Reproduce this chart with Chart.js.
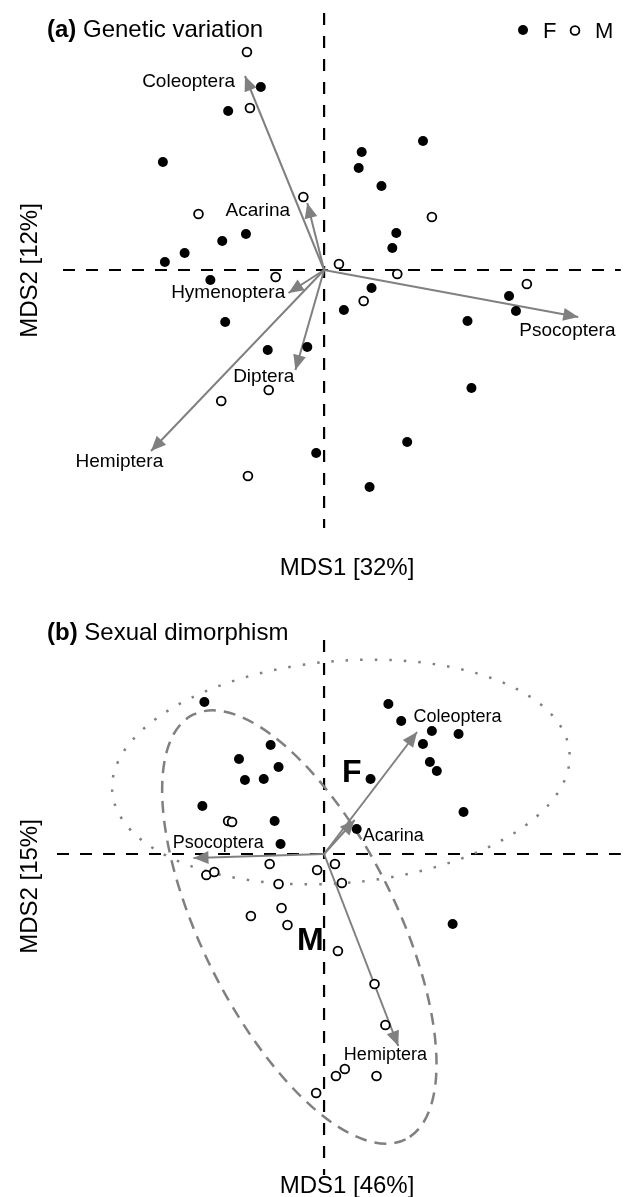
<!DOCTYPE html>
<html>
<head>
<meta charset="utf-8">
<script src="https://cdn.jsdelivr.net/npm/chart.js@4/dist/chart.umd.min.js"></script>
<style>
  body { margin: 0; background: #fff; }
  canvas { position: absolute; left: 0; }
  #chartA { top: 0; }
  #chartB { top: 600px; }
</style>
</head>
<body>
<canvas id="chartA" width="627" height="600"></canvas>
<canvas id="chartB" width="627" height="597"></canvas>
<script>
// (a) Genetic variation - MDS scores
const femalesA = [
  [-0.64, 1.83], [-0.97, 1.59], [-1.63, 1.08], [0.38, 1.18], [0.35, 1.02], [1.00, 1.29],
  [0.58, 0.84], [-0.79, 0.36], [-1.03, 0.29], [-1.41, 0.17], [-1.61, 0.08], [0.73, 0.37],
  [0.69, 0.22], [-1.15, -0.10], [0.48, -0.18], [1.87, -0.26], [1.94, -0.41], [1.45, -0.51],
  [0.20, -0.40], [-1.00, -0.52], [-0.57, -0.80], [-0.17, -0.77], [1.49, -1.18], [0.84, -1.72],
  [-0.08, -1.83], [0.46, -2.17]
];
const malesA = [
  [-0.78, 2.18], [-0.75, 1.62], [-0.21, 0.73], [-1.27, 0.56], [1.09, 0.53], [0.15, 0.06],
  [-0.49, -0.07], [0.74, -0.04], [2.05, -0.14], [0.40, -0.31], [-0.56, -1.20], [-1.04, -1.31],
  [-0.77, -2.06]
];
const vectorNamesA = ['Coleoptera', 'Acarina', 'Hymenoptera', 'Diptera', 'Hemiptera', 'Psocoptera'];
const vectorTipsA = [[-0.80, 1.94], [-0.17, 0.67], [-0.36, -0.23], [-0.29, -1.00], [-1.75, -1.81], [2.57, -0.47]];
const vectorLabelAtA = [[-1.37, 1.88], [-0.67, 0.59], [-0.97, -0.23], [-0.61, -1.07], [-2.07, -1.92], [2.46, -0.61]];

// (b) Sexual dimorphism - MDS scores
const femalesB = [
  [-1.21, 1.52], [0.65, 1.50], [0.78, 1.33], [1.09, 1.23], [1.36, 1.20], [1.00, 1.10],
  [-0.54, 1.09], [-0.86, 0.95], [-0.46, 0.87], [1.07, 0.92], [1.14, 0.83], [-0.80, 0.74],
  [-0.61, 0.75], [0.47, 0.75], [-1.23, 0.48], [1.41, 0.42], [-0.50, 0.33], [0.33, 0.25],
  [-0.44, 0.10], [1.30, -0.70]
];
const malesB = [
  [-0.97, 0.33], [-0.93, 0.32], [-0.55, -0.10], [0.11, -0.10], [-0.07, -0.16], [-1.19, -0.21],
  [-1.11, -0.18], [-0.46, -0.30], [0.18, -0.29], [-0.43, -0.54], [-0.74, -0.62], [-0.37, -0.71],
  [0.14, -0.97], [0.51, -1.30], [0.62, -1.71], [0.21, -2.15], [0.12, -2.22], [0.53, -2.22],
  [-0.08, -2.39]
];
const vectorNamesB = ['Coleoptera', 'Acarina', 'Psocoptera', 'Hemiptera'];
const vectorTipsB = [[0.94, 1.22], [0.31, 0.34], [-1.32, -0.04], [0.75, -1.92]];
const vectorLabelAtB = [[1.35, 1.37], [0.70, 0.18], [-1.07, 0.11], [0.62, -2.01]];
const groupNamesB = ['F', 'M'];
const groupLabelAtB = [[0.28, 0.81], [-0.14, -0.87]];
// ellipse: centre x, centre y, radius x, radius y, angle (deg)
const ellipseF = [0.17, 0.82, 2.32, 1.11, 5];
const ellipseM = [-0.25, -0.73, 2.40, 0.97, -63.4];

const FONT = '"Liberation Sans", Arial, Helvetica, sans-serif';
const GREY = '#808080';

function toXY(arr) {
  return arr.map(p => ({ x: p[0], y: p[1] }));
}

function pointSets(females, males) {
  return [
    {
      data: toXY(females),
      pointRadius: 5, pointBackgroundColor: '#000', pointBorderColor: '#000', pointBorderWidth: 0,
      clip: false
    },
    {
      data: toXY(males),
      pointRadius: 4.4, pointBackgroundColor: '#fff', pointBorderColor: '#000', pointBorderWidth: 1.8,
      clip: false
    }
  ];
}

function arrowSets(tips) {
  return tips.map(t => ({
    data: [{ x: 0, y: 0 }, { x: t[0], y: t[1] }],
    showLine: true, borderColor: GREY, borderWidth: 2, pointRadius: 0, clip: false, isArrow: true
  }));
}

function drawEllipse(chart, e, dash, width) {
  const ctx = chart.ctx, xs = chart.scales.x, ys = chart.scales.y;
  const cx = xs.getPixelForValue(e[0]);
  const cy = ys.getPixelForValue(e[1]);
  const rx = Math.abs(xs.getPixelForValue(e[2]) - xs.getPixelForValue(0));
  const ry = Math.abs(ys.getPixelForValue(e[3]) - ys.getPixelForValue(0));
  ctx.save();
  ctx.strokeStyle = GREY;
  ctx.lineWidth = width;
  ctx.setLineDash(dash);
  ctx.beginPath();
  ctx.ellipse(cx, cy, rx, ry, -e[4] * Math.PI / 180, 0, Math.PI * 2);
  ctx.stroke();
  ctx.restore();
}

function makePlugin(cfg) {
  return {
    id: 'mdsPanel',
    beforeDatasetsDraw(chart) {
      const ctx = chart.ctx, a = chart.chartArea;
      const x0 = chart.scales.x.getPixelForValue(0);
      const y0 = chart.scales.y.getPixelForValue(0);
      ctx.save();
      ctx.strokeStyle = '#000';
      ctx.lineWidth = 2.2;
      ctx.setLineDash([12, 11]);
      ctx.beginPath();
      ctx.moveTo(a.left, y0); ctx.lineTo(a.right, y0);
      ctx.moveTo(x0, a.top); ctx.lineTo(x0, a.bottom);
      ctx.stroke();
      ctx.restore();
      if (cfg.ellipses) {
        drawEllipse(chart, cfg.ellipses[0], [2.5, 12], 2.5);
        drawEllipse(chart, cfg.ellipses[1], [12, 8], 2.5);
      }
    },
    afterDatasetsDraw(chart) {
      const ctx = chart.ctx, xs = chart.scales.x, ys = chart.scales.y;
      ctx.save();
      chart.data.datasets.forEach((ds, i) => {
        if (!ds.isArrow) return;
        const pts = chart.getDatasetMeta(i).data;
        const ang = Math.atan2(pts[1].y - pts[0].y, pts[1].x - pts[0].x);
        const len = 15, half = 6.5;
        const bx = pts[1].x - len * Math.cos(ang), by = pts[1].y - len * Math.sin(ang);
        ctx.fillStyle = GREY;
        ctx.beginPath();
        ctx.moveTo(pts[1].x, pts[1].y);
        ctx.lineTo(bx + half * Math.sin(ang), by - half * Math.cos(ang));
        ctx.lineTo(bx - half * Math.sin(ang), by + half * Math.cos(ang));
        ctx.closePath();
        ctx.fill();
      });
      ctx.fillStyle = '#000';
      ctx.textAlign = 'center';
      ctx.textBaseline = 'middle';
      ctx.font = cfg.labelSize + 'px ' + FONT;
      cfg.names.forEach((n, i) => {
        ctx.fillText(n, xs.getPixelForValue(cfg.labelAt[i][0]), ys.getPixelForValue(cfg.labelAt[i][1]));
      });
      if (cfg.groups) {
        ctx.font = 'bold 32px ' + FONT;
        cfg.groups.forEach((g, i) => {
          ctx.fillText(g, xs.getPixelForValue(cfg.groupAt[i][0]), ys.getPixelForValue(cfg.groupAt[i][1]));
        });
      }
      ctx.restore();
    },
    afterDraw(chart) {
      const ctx = chart.ctx;
      ctx.save();
      ctx.fillStyle = '#000';
      ctx.textBaseline = 'alphabetic';
      // panel title
      ctx.textAlign = 'left';
      ctx.font = 'bold 24px ' + FONT;
      ctx.fillText(cfg.tag, 47, cfg.titleY);
      const w = ctx.measureText(cfg.tag).width;
      ctx.font = '24px ' + FONT;
      ctx.fillText(' ' + cfg.title, 47 + w, cfg.titleY);
      // axis titles
      ctx.textAlign = 'center';
      ctx.fillText(cfg.xTitle, 347, cfg.xTitleY);
      ctx.save();
      ctx.translate(37, cfg.yTitleY);
      ctx.rotate(-Math.PI / 2);
      ctx.fillText(cfg.yTitle, 0, 0);
      ctx.restore();
      // legend
      if (cfg.legend) {
        ctx.beginPath();
        ctx.arc(523, 30, 5, 0, Math.PI * 2);
        ctx.fill();
        ctx.font = '22px ' + FONT;
        ctx.textAlign = 'left';
        ctx.fillText('F', 543, 38);
        ctx.beginPath();
        ctx.arc(575, 30.5, 4.4, 0, Math.PI * 2);
        ctx.lineWidth = 1.8;
        ctx.strokeStyle = '#000';
        ctx.stroke();
        ctx.fillText('M', 595, 38);
      }
      ctx.restore();
    }
  };
}

function makeChart(id, datasets, scales, padding, plugin) {
  return new Chart(document.getElementById(id), {
    type: 'scatter',
    data: { datasets: datasets },
    options: {
      responsive: false,
      animation: false,
      devicePixelRatio: 1,
      events: [],
      layout: { padding: padding },
      scales: {
        x: { type: 'linear', display: false, min: scales[0], max: scales[1] },
        y: { type: 'linear', display: false, min: scales[2], max: scales[3] }
      },
      plugins: { legend: { display: false }, tooltip: { enabled: false } }
    },
    plugins: [plugin]
  });
}

makeChart('chartA',
  pointSets(femalesA, malesA).concat(arrowSets(vectorTipsA)),
  [-2.64, 3.00, -2.58, 2.57],
  { left: 63, right: 0, top: 13, bottom: 72 },
  makePlugin({
    names: vectorNamesA, labelAt: vectorLabelAtA, labelSize: 19,
    tag: '(a)', title: 'Genetic variation', titleY: 37,
    xTitle: 'MDS1 [32%]', xTitleY: 575, yTitle: 'MDS2 [12%]', yTitleY: 270.5,
    legend: true
  })
);

makeChart('chartB',
  pointSets(femalesB, malesB).concat(arrowSets(vectorTipsB)),
  [-2.70, 3.00, -3.21, 2.14],
  { left: 57, right: 0, top: 40, bottom: 22 },
  makePlugin({
    names: vectorNamesB, labelAt: vectorLabelAtB, labelSize: 18,
    groups: groupNamesB, groupAt: groupLabelAtB,
    ellipses: [ellipseF, ellipseM],
    tag: '(b)', title: 'Sexual dimorphism', titleY: 40,
    xTitle: 'MDS1 [46%]', xTitleY: 593, yTitle: 'MDS2 [15%]', yTitleY: 286.5,
    legend: false
  })
);
</script>
</body>
</html>
